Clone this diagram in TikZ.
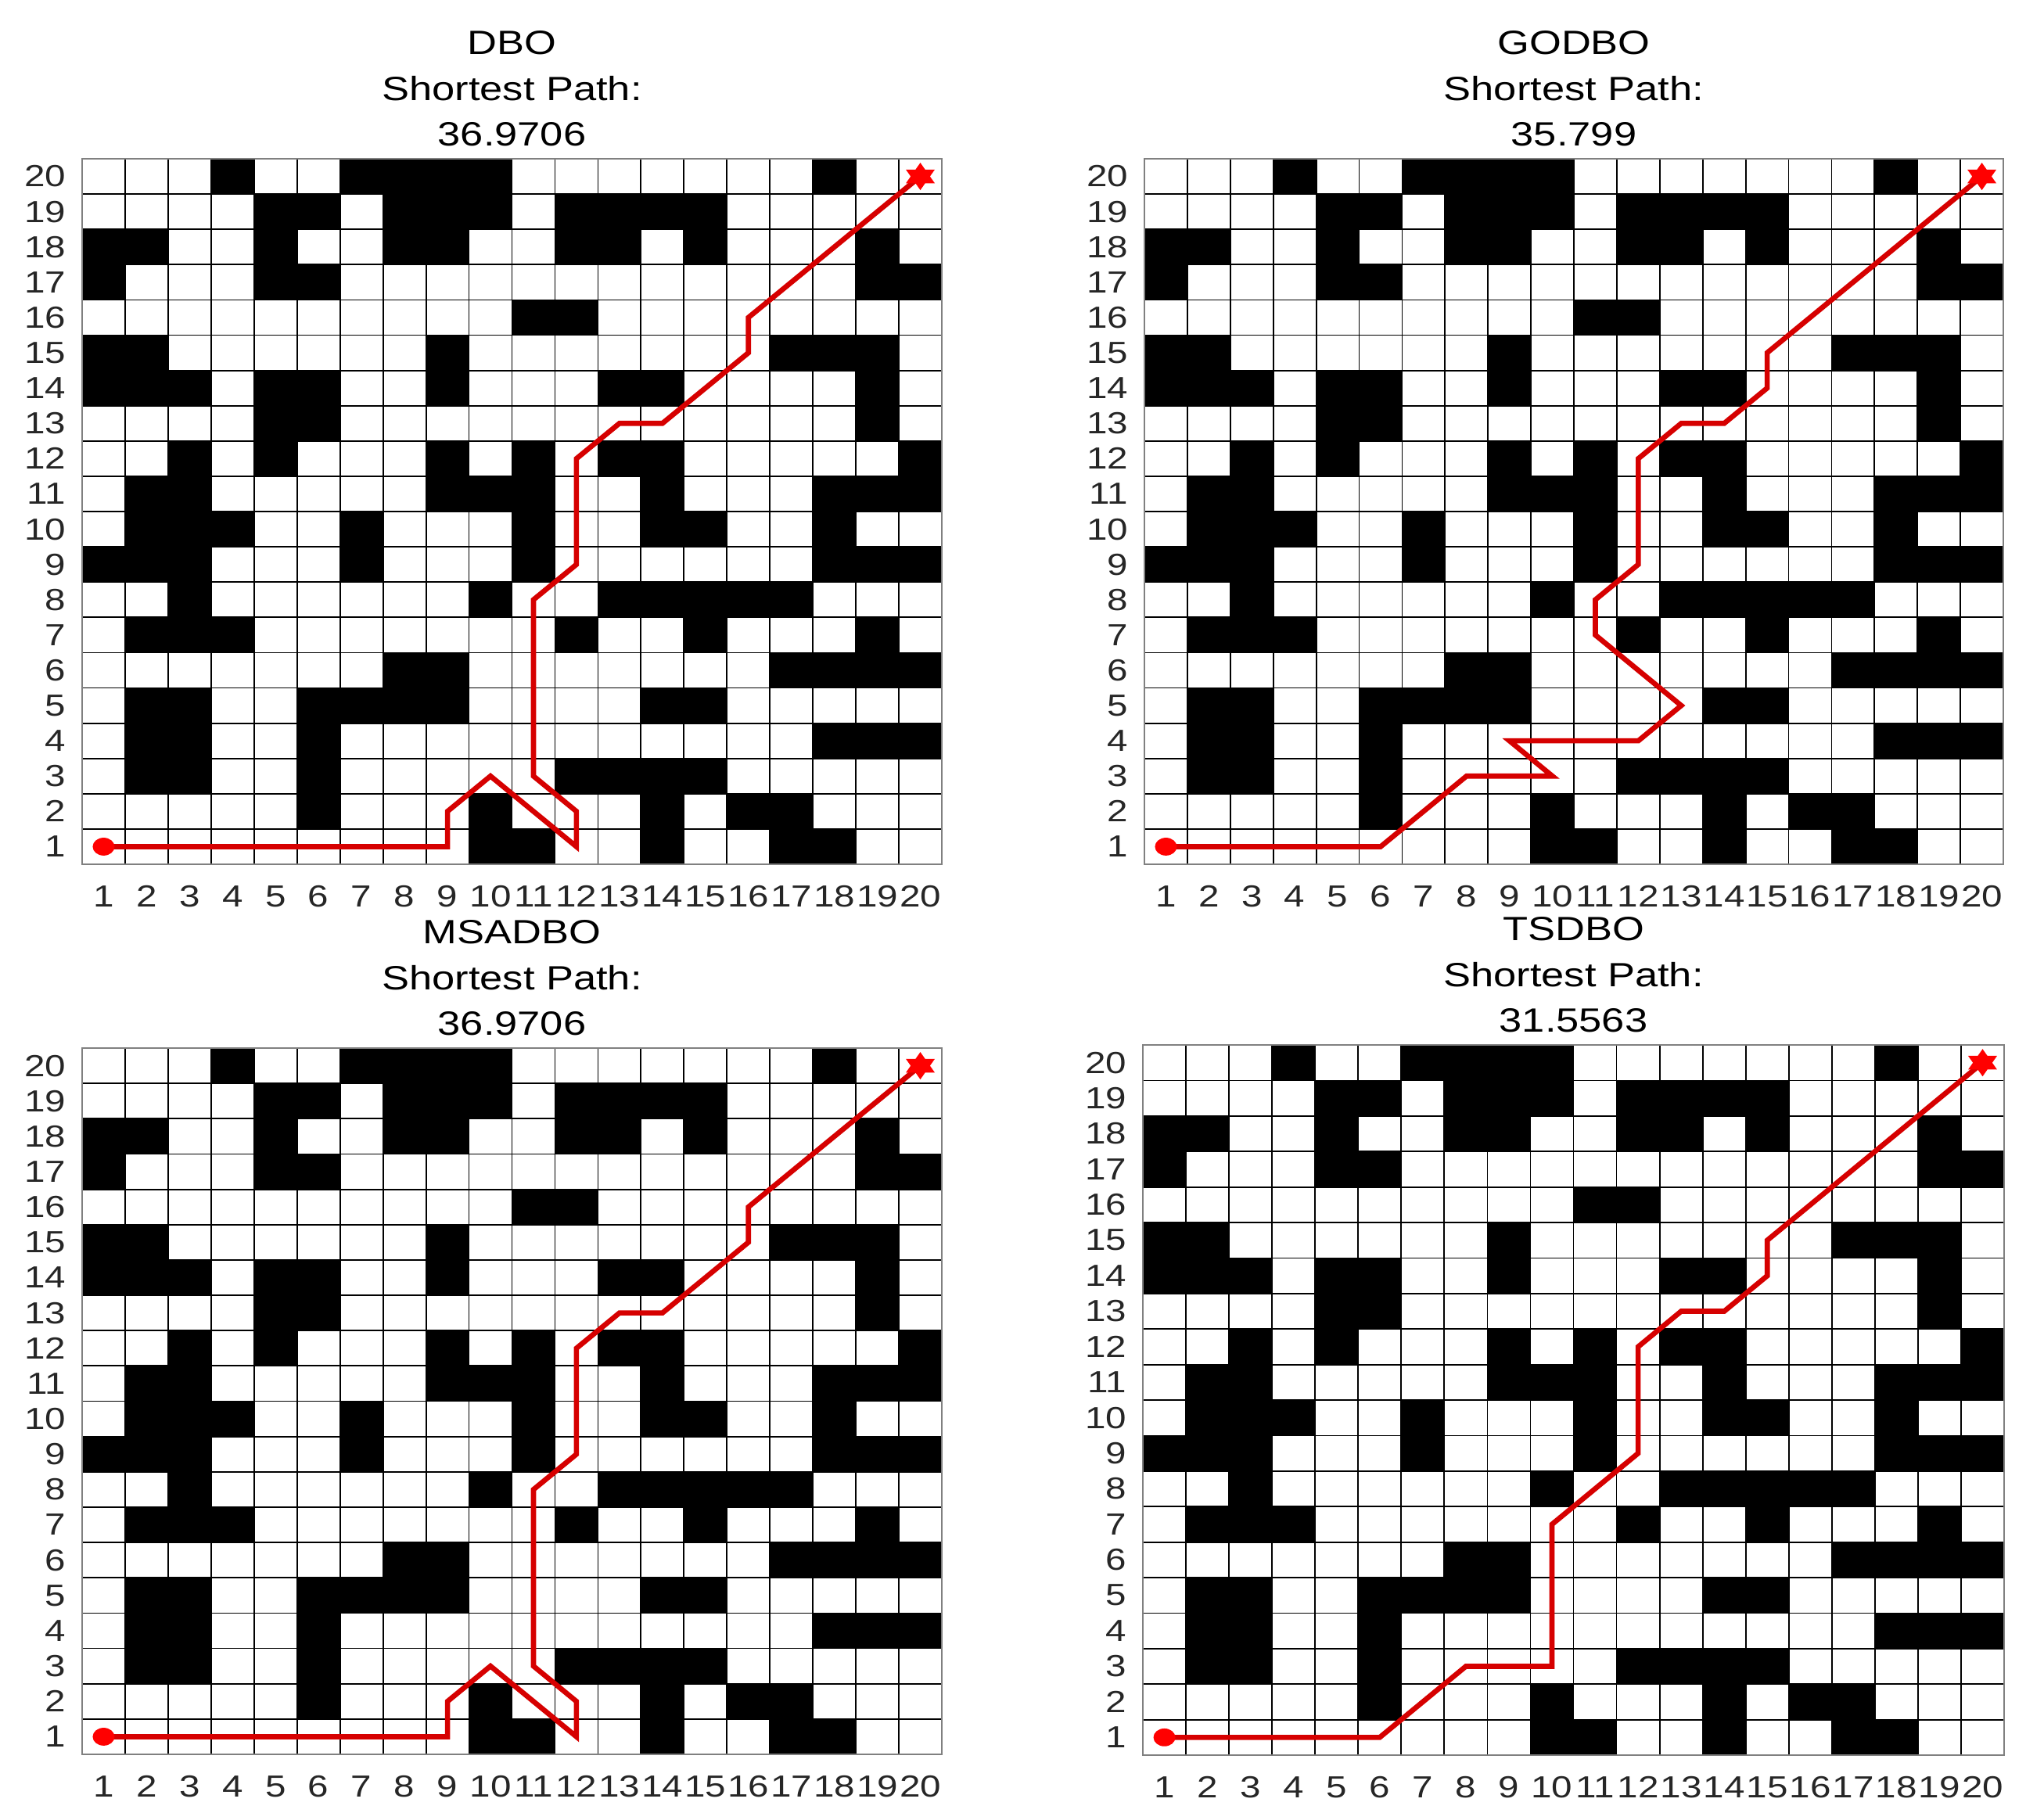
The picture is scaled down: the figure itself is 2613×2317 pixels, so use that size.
\documentclass[tikz,border=0pt]{standalone}
\usepackage{fontspec}
\newfontfamily\plotfont[FakeStretch=1.22]{Liberation Sans}
\definecolor{pathred}{RGB}{214,0,0}
\definecolor{markred}{RGB}{255,0,0}
\definecolor{tickgray}{RGB}{38,38,38}
\definecolor{framegray}{RGB}{128,128,128}

\tikzset{
  titletext/.style={font=\plotfont\fontsize{10.75}{12}\selectfont, text=black, inner sep=0pt},
  ticktext/.style={font=\plotfont\fontsize{9.75}{11}\selectfont, text=tickgray, inner sep=0pt},
  obstacle/.style={fill=black},
  gridline/.style={draw=black, line width=0.45pt},
  frameline/.style={draw=framegray, line width=0.6pt},
  pathline/.style={draw=pathred, line width=1.65pt},
  startmark/.style={fill=markred},
  goalmark/.style={fill=markred},
}

% obstacle map: row / {columns}
\newcommand\obstaclemap{20/{4,7,8,9,10,18},19/{5,6,8,9,10,12,13,14,15},18/{1,2,5,8,9,12,13,15,19},17/{1,5,6,19,20},16/{11,12},15/{1,2,9,17,18,19},14/{1,2,3,5,6,9,13,14,19},13/{5,6,19},12/{3,5,9,11,13,14,20},11/{2,3,9,10,11,14,18,19,20},10/{2,3,4,7,11,14,15,18},9/{1,2,3,7,11,18,19,20},8/{3,10,13,14,15,16,17},7/{2,3,4,12,15,19},6/{8,9,17,18,19,20},5/{2,3,6,7,8,9,14,15},4/{2,3,6,18,19,20},3/{2,3,6,12,13,14,15},2/{6,10,14,16,17},1/{10,11,14,17,18}}

% #1 x0, #2 top, #3 x1, #4 bottom (pixels), #5 name, #6 value, #7 path, #8 id
\newcommand\gridpanel[8]{%
  \pgfmathsetmacro\pnCW{(#3-#1)/20}%
  \pgfmathsetmacro\pnRH{(#4-#2)/20}%
  \pgfmathsetmacro\pnOX{#1-\pnCW/2}%
  \pgfmathsetmacro\pnOY{#4+\pnRH/2}%
  \pgfmathsetmacro\pnUX{\pnCW*0.25}%
  \pgfmathsetmacro\pnUY{\pnRH*0.25}%
  \pgfmathsetmacro\pnCX{(#1+#3)/2}%
  \node[titletext] (#8-name) at (\pnCX,#2-148) {#5};
  \node[titletext] (#8-label) at (\pnCX,#2-90) {Shortest Path:};
  \node[titletext] (#8-value) at (\pnCX,#2-31) {#6};
  \begin{scope}[shift={(\pnOX,\pnOY)}, x=\pnUX pt, y=\pnUY pt]
    \foreach \rw/\cl in \obstaclemap {
      \foreach \ci in \cl {
        \fill[obstacle] (\ci-0.5,\rw-0.5) rectangle (\ci+0.5,\rw+0.5);
      }
    }
    \foreach \kk in {1,...,19} {
      \draw[gridline] (\kk+0.5,0.5) -- (\kk+0.5,20.5);
      \draw[gridline] (0.5,\kk+0.5) -- (20.5,\kk+0.5);
    }
    \draw[frameline] (0.5,0.5) rectangle (20.5,20.5);
    \draw[pathline] #7;
    \fill[startmark] (1,1) ellipse [x radius=3.5pt, y radius=2.85pt];
    \fill[goalmark, shift={(20,20)}, x=0.305pt, y=0.25pt]
      (90:17.5) -- (120:10.1) -- (150:17.5) -- (180:10.1) -- (210:17.5) -- (240:10.1)
      -- (270:17.5) -- (300:10.1) -- (330:17.5) -- (0:10.1) -- (30:17.5) -- (60:10.1) -- cycle;
    \foreach \kk in {1,...,20} {
      \node[ticktext, anchor=east] (#8-y\kk) at ([xshift=-5pt]0.5,\kk) {\kk};
      \node[ticktext] (#8-x\kk) at ([yshift=-10.25pt]\kk,0.5) {\kk};
    }
  \end{scope}
}

\begin{document}
\begin{tikzpicture}[x=0.25pt, y=-0.25pt]
  \fill[white] (0,0) rectangle (2613,2317);
  \useasboundingbox (0,0) rectangle (2613,2317);

  \gridpanel{105}{203}{1204}{1105}{DBO}{36.9706}{(1,1) -- (9,1) -- (9,2) -- (10,3) -- (12,1) -- (12,2) -- (11,3) -- (11,8) -- (12,9) -- (12,12) -- (13,13) -- (14,13) -- (16,15) -- (16,16) -- (20,20)}{dbo}

  \gridpanel{1463}{203}{2561}{1105}{GODBO}{35.799}{(1,1) -- (6,1) -- (8,3) -- (10,3) -- (9,4) -- (12,4) -- (13,5) -- (11,7) -- (11,8) -- (12,9) -- (12,12) -- (13,13) -- (14,13) -- (15,14) -- (15,15) -- (20,20)}{godbo}

  \gridpanel{105}{1340}{1204}{2243}{MSADBO}{36.9706}{(1,1) -- (9,1) -- (9,2) -- (10,3) -- (12,1) -- (12,2) -- (11,3) -- (11,8) -- (12,9) -- (12,12) -- (13,13) -- (14,13) -- (16,15) -- (16,16) -- (20,20)}{msadbo}

  \gridpanel{1461}{1336}{2562}{2244}{TSDBO}{31.5563}{(1,1) -- (6,1) -- (8,3) -- (10,3) -- (10,7) -- (12,9) -- (12,12) -- (13,13) -- (14,13) -- (15,14) -- (15,15) -- (20,20)}{tsdbo}
\end{tikzpicture}
\end{document}
